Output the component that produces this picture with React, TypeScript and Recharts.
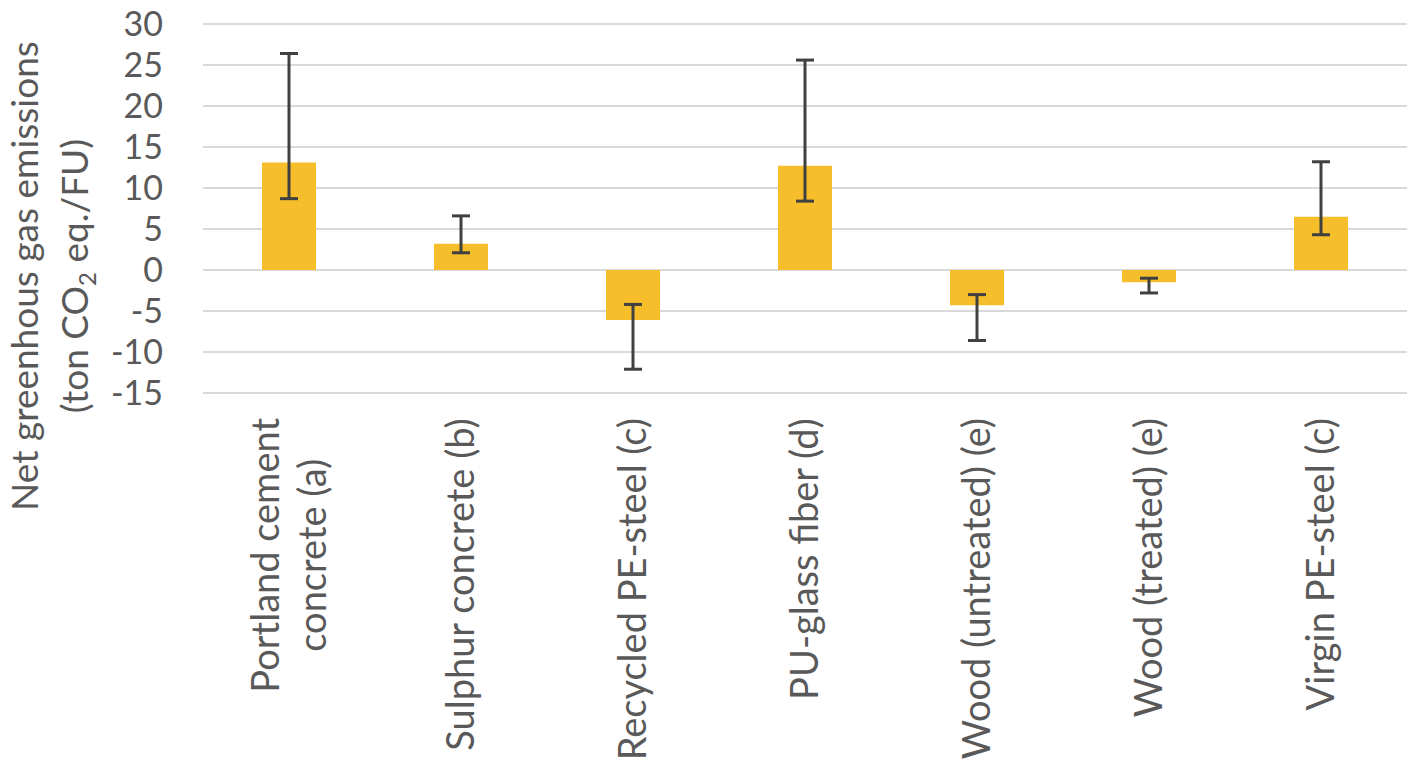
import React from 'react'
import { BarChart, Bar, XAxis, YAxis, CartesianGrid, ErrorBar } from 'recharts'

const categories = [
  'Portland cement\nconcrete (a)',
  'Sulphur concrete (b)',
  'Recycled PE-steel (c)',
  'PU-glass fiber (d)',
  'Wood (untreated) (e)',
  'Wood (treated) (e)',
  'Virgin PE-steel (c)',
]
const emissions = [13.1, 3.2, -6.1, 12.7, -4.3, -1.5, 6.5]
const lowBound = [8.7, 2.1, -12.1, 8.4, -8.6, -2.8, 4.3]
const highBound = [26.4, 6.6, -4.2, 25.6, -3.0, -1.0, 13.2]
const yTicks = [-15, -10, -5, 0, 5, 10, 15, 20, 25, 30]

const FONT = 'Lato, "Open Sans", sans-serif'
const TEXT = '#595959'

const rows = categories.map((name, i) => ({
  name,
  value: emissions[i],
  err: [emissions[i] - lowBound[i], highBound[i] - emissions[i]],
}))

let ctx: CanvasRenderingContext2D | null = null
function textWidth(s: string, size: number) {
  if (!ctx) ctx = document.createElement('canvas').getContext('2d')
  if (!ctx) return s.length * size * 0.5
  ctx.font = `${size}px Lato`
  return ctx.measureText(s).width
}

const X_SIZE = 38

function CategoryTick(props: any) {
  const { x, y, payload } = props
  const lines: string[] = String(payload.value).split('\n')
  const w = Math.max(...lines.map((l) => textWidth(l, X_SIZE)))
  const n = lines.length
  return (
    <g transform={`translate(${x},${y}) rotate(-90)`}>
      {lines.map((l, i) => (
        <text
          key={i}
          x={-w / 2}
          y={(i - (n - 1) / 2) * 47 + 13}
          textAnchor="middle"
          fill={TEXT}
          fontSize={X_SIZE}
          fontFamily={FONT}
        >
          {l}
        </text>
      ))}
    </g>
  )
}

function YTitle() {
  return (
    <g fill={TEXT} fontSize={37} fontFamily={FONT}>
      <text transform="translate(38,276) rotate(-90)" textAnchor="middle">
        Net greenhous gas emissions
      </text>
      <text transform="translate(88,276) rotate(-90)" textAnchor="middle">
        (ton CO
        <tspan fontSize={24} dy={8}>2</tspan>
        <tspan dy={-8}> eq./FU)</tspan>
      </text>
    </g>
  )
}

export default function App() {
  return (
    <div style={{ position: 'absolute', left: 0, top: 0, width: 1418, height: 781, background: '#fff' }}>
      <BarChart width={1418} height={781} data={rows} margin={{ top: 24, right: 11, left: 0, bottom: 0 }}>
        <CartesianGrid vertical={false} stroke="#D9D9D9" strokeWidth={2} />
        <XAxis
          dataKey="name"
          height={388}
          axisLine={false}
          tickLine={false}
          tickSize={0}
          tickMargin={25}
          interval={0}
          tick={<CategoryTick />}
        />
        <YAxis
          width={203}
          domain={[-15, 30]}
          ticks={yTicks}
          interval={0}
          axisLine={false}
          tickLine={false}
          tickSize={6}
          tickMargin={34}
          tick={{ fill: TEXT, fontSize: 34, fontFamily: FONT }}
          label={<YTitle />}
        />
        <Bar dataKey="value" fill="#F6BE2B" barSize={54} isAnimationActive={false}>
          <ErrorBar dataKey="err" width={9} stroke="#404040" strokeWidth={3} isAnimationActive={false} />
        </Bar>
      </BarChart>
    </div>
  )
}
